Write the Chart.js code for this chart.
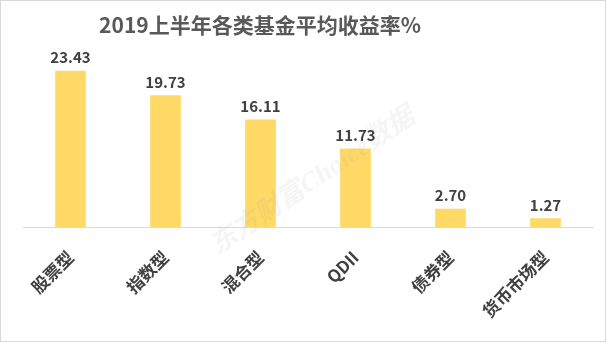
<!DOCTYPE html>
<html>
<head>
<meta charset="utf-8">
<script src="https://cdn.jsdelivr.net/npm/chart.js@4"></script>
<style>
  html, body { margin: 0; padding: 0; background: #fff; }
  #wrap { width: 606px; height: 342px; }
</style>
</head>
<body>
<div id="wrap"><canvas id="fundChart" width="606" height="342"></canvas></div>
<script>
const categories = ['股票型', '指数型', '混合型', 'QDII', '债券型', '货币市场型'];
const returns = [23.43, 19.73, 16.11, 11.73, 2.70, 1.27];
const titleText = '2019上半年各类基金平均收益率%';
const watermark = '东方财富Choice数据';

const cjk = "'Noto Sans CJK SC', 'Microsoft YaHei', sans-serif";

// frame, title (sits left of centre in the original), watermark and value labels
const extras = {
    id: 'extras',
    beforeDraw(chart) {
        const ctx = chart.ctx;
        ctx.save();
        ctx.fillStyle = '#fff';
        ctx.fillRect(0, 0, chart.width, chart.height);
        ctx.strokeStyle = '#d9d9d9';
        ctx.lineWidth = 1;
        ctx.strokeRect(0.5, 0.5, chart.width - 1, chart.height - 1);

        ctx.font = "bold 21px " + cjk;
        ctx.fillStyle = '#595959';
        ctx.textAlign = 'center';
        ctx.textBaseline = 'middle';
        ctx.fillText(titleText, 260, 25);
        ctx.restore();
    },
    afterDatasetsDraw(chart) {
        const ctx = chart.ctx;
        const meta = chart.getDatasetMeta(0);
        ctx.save();
        ctx.translate(313, 182);
        ctx.rotate(-34 * Math.PI / 180);
        ctx.font = "italic bold 27px 'Liberation Serif', 'Noto Sans CJK SC', serif";
        ctx.fillStyle = 'rgba(160,160,160,0.11)';
        ctx.textAlign = 'center';
        ctx.textBaseline = 'middle';
        ctx.fillText(watermark, 0, 0);
        ctx.restore();

        ctx.save();
        ctx.font = "bold 15px " + cjk;
        ctx.fillStyle = '#404040';
        ctx.textAlign = 'center';
        ctx.textBaseline = 'bottom';
        meta.data.forEach(function(bar, i) {
            ctx.fillText(returns[i].toFixed(2), bar.x, bar.y - 6);
        });
        ctx.restore();
    }
};

new Chart(document.getElementById('fundChart'), {
    type: 'bar',
    data: {
        labels: categories,
        datasets: [{
            data: returns,
            backgroundColor: '#FFD966',
            barThickness: 30
        }]
    },
    options: {
        responsive: false,
        animation: false,
        layout: { padding: { left: 23, right: 13, top: 60.5, bottom: 0 } },
        plugins: {
            legend: { display: false },
            tooltip: { enabled: false },
            title: { display: false }
        },
        scales: {
            x: {
                grid: { display: false, drawTicks: false },
                border: { display: true, color: '#d9d9d9', width: 1 },
                ticks: {
                    color: '#404040',
                    font: { family: cjk, size: 17, weight: 'bold' },
                    minRotation: 45,
                    maxRotation: 45,
                    padding: 20
                },
                afterFit(scale) { scale.height = 115; }
            },
            y: {
                display: false,
                min: 0,
                max: 25
            }
        }
    },
    plugins: [extras]
});
</script>
</body>
</html>
